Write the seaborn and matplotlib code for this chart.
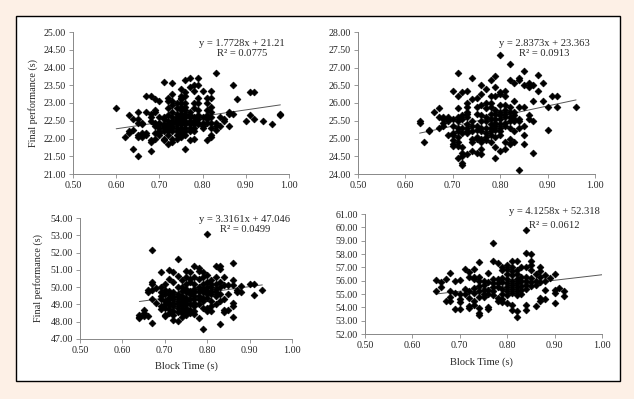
import numpy as np
import pandas as pd
import matplotlib
matplotlib.use('Agg')
import matplotlib.pyplot as plt
from matplotlib.patches import Rectangle
import seaborn as sns

sns.set_style('white')
plt.rcParams['font.family'] = ['Liberation Serif', 'DejaVu Serif']

# Block time columns (s) and the final performance values (s) seen in each column
tl_x = [0.60, 0.62, 0.63, 0.64, 0.65, 0.66, 0.67, 0.68, 0.69, 0.70, 0.71, 0.72, 0.73,
        0.74, 0.75, 0.76, 0.77, 0.78, 0.79, 0.80, 0.81, 0.82, 0.83, 0.84, 0.85, 0.86,
        0.87, 0.88, 0.90, 0.91, 0.92, 0.94, 0.96, 0.98]
tl_y = [[22.85], [22.05], [22.65, 22.2, 22.15], [22.55, 22.25, 21.7],
        [22.75, 22.55, 22.45, 22.1, 22.05, 21.5], [22.45, 22.4, 22.15, 22.1, 22.05],
        [23.2, 22.75, 22.15, 22.1], [23.2, 22.7, 22.6, 22.5, 21.95, 21.9, 21.65],
        [23.1, 22.8, 22.75, 22.45, 22.4, 22.35, 22.15, 22.0],
        [23.05, 22.6, 22.45, 22.4, 22.3, 22.2, 22.15, 22.1],
        [23.6, 22.6, 22.55, 22.4, 22.35, 22.3, 22.2, 22.0, 21.95],
        [23.15, 23.05, 22.85, 22.65, 22.5, 22.4, 22.35, 22.3, 22.25, 22.2, 22.1, 21.85],
        [23.55, 23.25, 23.05, 22.95, 22.75, 22.6, 22.5, 22.45, 22.35, 22.3, 22.2, 22.0, 21.9],
        [23.0, 22.85, 22.7, 22.6, 22.55, 22.5, 22.45, 22.4, 22.3, 22.2, 22.1, 22.0],
        [23.4, 23.2, 23.15, 23.1, 23.0, 22.9, 22.8, 22.7, 22.65, 22.6, 22.55, 22.5, 22.45,
         22.4, 22.3, 22.25, 22.15, 22.05],
        [23.65, 23.3, 23.2, 23.0, 22.9, 22.8, 22.7, 22.6, 22.5, 22.45, 22.4, 22.3, 22.2, 22.1, 21.7],
        [23.7, 23.45, 22.75, 22.65, 22.6, 22.5, 22.4, 22.3, 22.2, 21.95],
        [23.5, 23.35, 23.0, 22.85, 22.6, 22.5, 22.4, 22.3, 22.2, 22.0],
        [23.7, 23.5, 23.15, 23.0, 22.8, 22.65, 22.55, 22.45, 22.4],
        [23.35, 22.6, 22.45, 22.35, 22.3],
        [23.15, 23.0, 22.8, 22.65, 22.55, 22.45, 21.95],
        [23.35, 23.15, 22.9, 22.75, 22.6, 22.45, 22.3, 22.1, 22.05],
        [23.85, 22.45, 22.35, 22.25], [22.6, 22.35], [22.55, 22.5], [22.75, 22.7, 22.35],
        [23.5, 22.7], [23.1], [22.5], [23.3, 22.65], [23.3, 22.55], [22.5], [22.4], [22.7, 22.65]]

tr_x = [0.63, 0.64, 0.65, 0.66, 0.67, 0.68, 0.69, 0.70, 0.71, 0.72, 0.73, 0.74, 0.75,
        0.76, 0.77, 0.78, 0.79, 0.80, 0.81, 0.82, 0.83, 0.84, 0.85, 0.86, 0.87, 0.88,
        0.89, 0.90, 0.91, 0.92, 0.96]
tr_y = [[25.5, 25.45], [24.9], [25.25, 25.2], [25.75], [25.85, 25.6, 25.3],
        [25.6, 25.55, 25.45, 25.35], [25.6, 25.55, 25.5, 25.1],
        [26.35, 25.55, 25.35, 25.15, 25.1, 24.95, 24.85, 24.8],
        [26.85, 26.2, 25.85, 25.6, 25.5, 25.3, 25.2, 25.05, 24.9, 24.8, 24.45],
        [26.3, 25.65, 25.55, 25.3, 25.15, 24.75, 24.6, 24.5, 24.3, 24.25],
        [26.35, 26.0, 25.9, 25.75, 25.7, 25.6, 25.4, 25.3, 25.2, 25.15, 24.55],
        [26.7, 26.1, 25.5, 25.35, 25.2, 25.0, 24.9, 24.65],
        [26.15, 25.9, 25.7, 25.35, 25.25, 25.05, 25.0, 24.6],
        [26.5, 26.25, 25.95, 25.65, 25.5, 25.3, 25.2, 25.0, 24.9, 24.7, 24.55],
        [26.4, 26.0, 25.85, 25.6, 25.5, 25.3, 25.15, 25.05, 24.95],
        [26.65, 26.2, 26.0, 25.9, 25.7, 25.55, 25.4, 25.3, 25.2, 25.1, 24.9],
        [26.75, 26.45, 26.2, 25.8, 25.7, 25.55, 25.45, 25.35, 25.25, 25.05, 24.75, 24.45],
        [27.35, 26.3, 26.25, 25.95, 25.75, 25.65, 25.55, 25.4, 25.3, 25.2, 25.1, 24.65],
        [26.35, 26.2, 25.95, 25.8, 25.7, 25.6, 25.45, 25.35, 24.9, 24.7],
        [27.1, 26.65, 25.9, 25.75, 25.6, 25.5, 25.3, 25.0, 24.85],
        [26.55, 26.05, 25.75, 25.65, 25.55, 25.5, 25.2, 24.9],
        [26.7, 26.65, 25.9, 25.55, 25.5, 25.3, 24.1],
        [26.9, 26.5, 25.9, 25.35, 25.1, 24.85], [26.55, 26.45, 25.65, 25.55],
        [26.5, 26.05, 25.5, 24.6], [26.8, 26.35], [26.55, 26.05], [25.9, 25.25],
        [26.2], [26.2, 25.9], [25.9]]

bl_x = [0.64, 0.65, 0.66, 0.67, 0.68, 0.69, 0.70, 0.71, 0.72, 0.73, 0.74, 0.75, 0.76,
        0.77, 0.78, 0.79, 0.80, 0.81, 0.82, 0.83, 0.84, 0.85, 0.86, 0.87, 0.88, 0.90,
        0.91, 0.93]
bl_y = [[48.4, 48.3, 48.2], [48.7, 48.5, 48.35], [49.85, 49.7, 48.35],
        [52.15, 50.3, 50.2, 49.85, 49.3, 47.9], [49.95, 49.1],
        [50.85, 50.0, 49.7, 49.5, 49.3, 48.9, 48.75],
        [50.2, 49.85, 49.6, 49.2, 49.0, 48.8, 48.4, 48.35],
        [51.0, 50.5, 49.8, 49.6, 49.4, 49.3, 49.1, 48.95, 48.75, 48.5],
        [50.9, 50.3, 49.7, 49.5, 49.3, 49.1, 48.9, 48.6, 48.4, 48.1],
        [51.6, 50.65, 50.0, 49.6, 49.45, 49.2, 49.0, 48.8, 48.55, 48.05],
        [50.4, 50.0, 49.8, 49.5, 49.3, 49.1, 48.9, 48.7, 48.5, 48.3],
        [50.95, 50.6, 50.2, 49.9, 49.7, 49.4, 49.2, 49.0, 48.8, 48.6, 48.4],
        [50.85, 50.5, 50.3, 49.8, 49.6, 49.3, 49.0, 48.7, 48.5],
        [51.2, 50.6, 50.2, 49.9, 49.7, 49.5, 49.3, 49.1, 48.9, 48.6, 48.45],
        [51.1, 50.95, 50.5, 50.0, 49.8, 49.5, 49.3, 49.0, 48.2],
        [50.9, 50.6, 50.2, 49.9, 49.7, 49.4, 49.2, 48.8, 47.55],
        [53.05, 50.7, 50.3, 50.0, 49.8, 49.6, 49.4, 48.8, 48.6],
        [50.4, 50.2, 50.0, 49.8, 49.6, 49.2, 48.9, 48.6],
        [51.2, 50.6, 50.2, 49.9, 49.7, 49.5, 49.0],
        [51.25, 51.05, 50.3, 50.0, 49.6, 49.2, 47.85],
        [50.6, 50.1, 49.3, 48.7, 48.55], [50.15, 49.6, 48.7],
        [51.4, 50.4, 50.1, 49.1, 48.9, 48.3], [49.85, 49.7], [50.05, 49.7], [50.2],
        [50.2, 49.55], [49.85]]

br_x = [0.65, 0.66, 0.67, 0.68, 0.69, 0.70, 0.71, 0.72, 0.73, 0.74, 0.75, 0.76, 0.77,
        0.78, 0.79, 0.80, 0.81, 0.82, 0.83, 0.84, 0.85, 0.86, 0.87, 0.88, 0.89, 0.90,
        0.91, 0.92]
br_y = [[56.05, 55.2], [55.9, 55.55], [56.1, 54.5], [56.55, 55.2, 54.75, 54.5],
        [56.0, 55.1, 53.9], [56.05, 55.0, 54.6, 54.4, 53.85], [56.85, 55.35, 55.0],
        [56.65, 56.3, 55.25, 54.7, 54.1, 53.95],
        [56.9, 56.3, 56.1, 55.45, 55.1, 54.5, 54.2],
        [57.4, 56.3, 56.0, 55.6, 55.2, 54.75, 53.95, 53.6, 53.4],
        [56.0, 55.7, 55.3, 55.0, 54.8], [56.6, 55.9, 55.3, 55.0, 54.05, 53.85],
        [58.85, 57.45, 56.1, 55.85, 55.5, 55.2, 54.9],
        [57.3, 56.15, 55.8, 55.5, 54.7, 54.5],
        [57.0, 56.8, 56.2, 55.9, 55.4, 55.0, 54.6, 54.4],
        [57.2, 56.9, 56.5, 56.1, 55.8, 55.5, 55.2, 54.9, 54.3],
        [57.5, 57.0, 56.7, 56.4, 56.0, 55.7, 55.4, 55.1, 54.2, 53.8],
        [57.5, 56.8, 56.5, 56.1, 55.8, 55.5, 55.2, 54.9, 53.7, 53.3],
        [57.0, 56.3, 56.0, 55.6, 55.3, 55.0],
        [59.8, 58.1, 57.0, 56.3, 56.0, 55.7, 55.4, 54.2, 53.8],
        [58.0, 57.5, 57.2, 56.8, 56.2, 55.9, 55.6], [56.5, 56.0, 55.7, 54.1],
        [57.0, 56.7, 56.3, 55.9, 54.7, 54.5], [56.45, 56.0, 55.3, 54.6], [56.2],
        [56.5, 55.3, 55.1, 54.3], [55.45], [55.2, 54.85]]

# Trendline slope / intercept as printed, and the x span each line covers
slopes = [1.7728, 2.8373, 3.3161, 4.1258]
intercepts = [21.21, 23.363, 47.046, 52.318]
eq_labels = ['y = 1.7728x + 21.21', 'y = 2.8373x + 23.363',
             'y = 3.3161x + 47.046', 'y = 4.1258x + 52.318']
r2_labels = ['R² = 0.0775', 'R² = 0.0913', 'R² = 0.0499', 'R² = 0.0612']
line_end = [0.98, 0.96, 0.93, 1.00]

y_limits = [(21, 25, 0.5), (24, 28, 0.5), (47, 54, 1), (52, 61, 1)]


def expand(xs, ys):
    rows = [(x, y) for x, col in zip(xs, ys) for y in col]
    return pd.DataFrame(rows, columns=['block', 'final'])


W, H = 634, 399
fig = plt.figure(figsize=(W / 100, H / 100), dpi=100)
fig.patch.set_facecolor('#fdf0e6')
fig.patches.append(Rectangle((16 / W, 1 - 381 / H), 604 / W, 365 / H,
                             transform=fig.transFigure, facecolor='white',
                             edgecolor='black', linewidth=1.0, zorder=-5))

# axes boxes in pixels: left, top, right, bottom
boxes = [(73, 32, 289, 174), (358, 32, 595, 174), (80, 218, 292, 339), (365, 214, 602, 334)]
eq_pos = [(242, 43, 54), (544, 43, 54), (245, 219, 229), (554, 212, 225)]
panels = [(tl_x, tl_y), (tr_x, tr_y), (bl_x, bl_y), (br_x, br_y)]

for i, (xs, ys) in enumerate(panels):
    l, t, r, b = boxes[i]
    ax = fig.add_axes([l / W, 1 - b / H, (r - l) / W, (b - t) / H])
    ax.set_facecolor('none')
    df = expand(xs, ys)
    sns.scatterplot(data=df, x='block', y='final', ax=ax, marker='D', s=12,
                    color='black', edgecolor='black', linewidth=0.5, zorder=3)
    lx = np.array([min(xs), line_end[i]])
    sns.lineplot(x=lx, y=slopes[i] * lx + intercepts[i], ax=ax, color='#555555',
                 linewidth=0.7, zorder=2)
    lo, hi, step = y_limits[i]
    ax.set_xlim(0.5, 1.0)
    ax.set_ylim(lo, hi)
    ax.set_xticks(np.arange(0.5, 1.001, 0.1))
    ax.set_yticks(np.arange(lo, hi + 0.001, step))
    ax.xaxis.set_major_formatter('{x:.2f}')
    ax.yaxis.set_major_formatter('{x:.2f}')
    ax.tick_params(labelsize=7.2, length=3, width=0.6, color='#888888', pad=2,
                   direction='out', bottom=True, left=True)
    for s in ['top', 'right']:
        ax.spines[s].set_visible(False)
    for s in ['left', 'bottom']:
        ax.spines[s].set_color('#888888')
        ax.spines[s].set_linewidth(0.7)
    ax.set_xlabel('')
    ax.set_ylabel('')

    cx, y1, y2 = eq_pos[i]
    fig.text(cx / W, 1 - y1 / H, eq_labels[i], ha='center', va='center', fontsize=7.6)
    fig.text(cx / W, 1 - y2 / H, r2_labels[i], ha='center', va='center', fontsize=7.6)

fig.text(33 / W, 1 - 103 / H, 'Final performance (s)', rotation=90, ha='center',
         va='center', fontsize=7.3)
fig.text(38 / W, 1 - 278 / H, 'Final performance (s)', rotation=90, ha='center',
         va='center', fontsize=7.3)
fig.text(186 / W, 1 - 366 / H, 'Block Time (s)', ha='center', va='center', fontsize=7.6)
fig.text(481 / W, 1 - 362 / H, 'Block Time (s)', ha='center', va='center', fontsize=7.6)

fig.savefig('out.png', dpi=100, facecolor=fig.get_facecolor())
